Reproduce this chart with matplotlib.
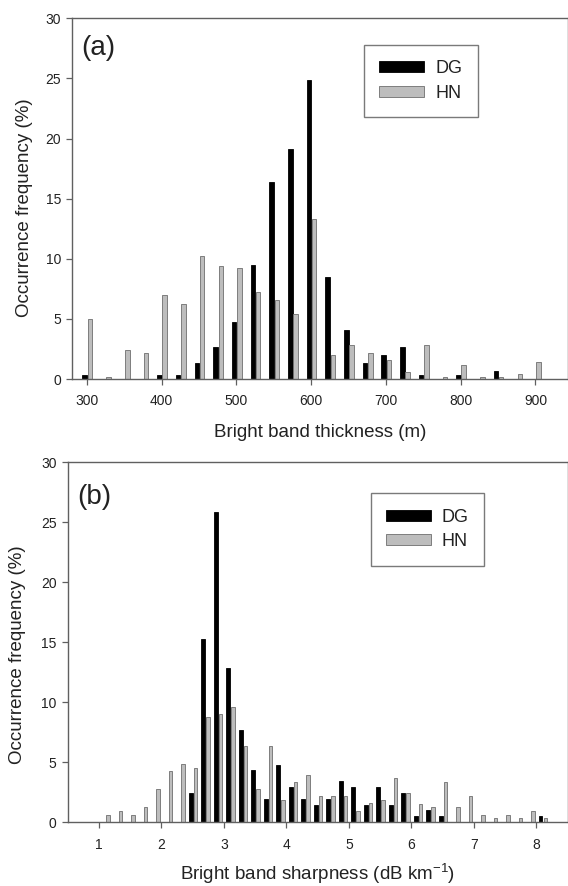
import matplotlib
matplotlib.use("Agg")
import matplotlib.pyplot as plt

plt.rcParams["font.family"] = ["Liberation Sans", "DejaVu Sans"]
plt.rcParams["mathtext.fontset"] = "custom"
plt.rcParams["mathtext.rm"] = "Liberation Sans"
plt.rcParams["mathtext.it"] = "Liberation Sans:italic"
plt.rcParams["mathtext.bf"] = "Liberation Sans:bold"

# (a) espesor de la banda brillante (m)
thick_bins = [300, 325, 350, 375, 400, 425, 450, 475, 500, 525, 550, 575, 600,
              625, 650, 675, 700, 725, 750, 775, 800, 825, 850, 875, 900]
thick_dg = [0.33, 0, 0, 0, 0.33, 0.33, 1.36, 2.7, 4.74, 9.5, 16.4, 19.1, 24.9,
            8.5, 4.07, 1.36, 2.0, 2.7, 0.33, 0, 0.33, 0, 0.7, 0, 0]
thick_hn = [4.96, 0.2, 2.4, 2.2, 7.0, 6.2, 10.2, 9.4, 9.2, 7.2, 6.6, 5.4, 13.3,
            2.0, 2.8, 2.2, 1.6, 0.6, 2.8, 0.2, 1.2, 0.2, 0.2, 0.4, 1.4]

# (b) nitidez de la banda brillante (dB km-1)
sharp_bins = [1.1, 1.3, 1.5, 1.7, 1.9, 2.1, 2.3, 2.5, 2.7, 2.9, 3.1, 3.3, 3.5,
              3.7, 3.9, 4.1, 4.3, 4.5, 4.7, 4.9, 5.1, 5.3, 5.5, 5.7, 5.9, 6.1,
              6.3, 6.5, 6.7, 6.9, 7.1, 7.3, 7.5, 7.7, 7.9, 8.1]
sharp_dg = [0, 0, 0, 0, 0, 0, 0, 2.41, 15.3, 25.9, 12.9, 7.68, 4.35,
            1.97, 4.8, 2.9, 1.97, 1.47, 1.94, 3.41, 2.91, 1.47, 2.91, 1.47, 2.44, 0.5,
            1.03, 0.5, 0, 0, 0, 0, 0, 0, 0, 0.5]
sharp_hn = [0.64, 0.97, 0.64, 1.25, 2.77, 4.24, 4.85, 4.55, 8.76, 9.04, 9.65, 6.35, 2.77,
            6.38, 1.86, 3.35, 3.96, 2.16, 2.16, 2.16, 0.97, 1.58, 1.89, 3.66, 2.44, 1.55,
            1.25, 3.35, 1.25, 2.16, 0.64, 0.33, 0.64, 0.33, 0.97, 0.33]

AXCOL = "#606060"
TXTCOL = "#222222"
HNCOL = "#bdbdbd"
HNEDGE = "#6e6e6e"


def panel(ax, bins, dg, hn, off_dg, off_hn, width, xlim, xticks, xlabel, tag,
          leg_anchor, ylab_x, ylab_y, xlab_y):
    ax.bar([b + off_dg for b in bins], dg, width=width, color="black",
           edgecolor="black", linewidth=0.6, label="DG")
    ax.bar([b + off_hn for b in bins], hn, width=width, color=HNCOL,
           edgecolor=HNEDGE, linewidth=0.6, label="HN")
    ax.set_xlim(*xlim)
    ax.set_ylim(0, 30)
    ax.set_xticks(xticks)
    ax.set_yticks([0, 5, 10, 15, 20, 25, 30])
    for s in ax.spines.values():
        s.set_color(AXCOL)
        s.set_linewidth(1.0)
    ax.tick_params(axis="both", direction="out", length=4, width=0.9,
                   color=AXCOL, labelcolor=TXTCOL, labelsize=10)
    ax.tick_params(axis="x", pad=7)
    ax.tick_params(axis="y", pad=4)
    ax.set_ylabel("Occurrence frequency (%)", fontsize=13.5, color=TXTCOL)
    ax.yaxis.set_label_coords(ylab_x, ylab_y)
    ax.set_xlabel(xlabel, fontsize=13.5, color=TXTCOL, va="center")
    ax.xaxis.set_label_coords(0.5, xlab_y)
    ax.text(0.019, tag[1], tag[0], transform=ax.transAxes, fontsize=20,
            color=TXTCOL, ha="left", va="center")
    leg = ax.legend(loc="upper left", bbox_to_anchor=leg_anchor, fontsize=13,
                    frameon=True, fancybox=False, framealpha=1,
                    edgecolor="#7a7a7a", handlelength=2.5, handleheight=0.55,
                    handletextpad=0.6, labelspacing=0.42, borderpad=0.85,
                    borderaxespad=0)
    leg.get_frame().set_linewidth(1.0)
    for t in leg.get_texts():
        t.set_color(TXTCOL)


fig = plt.figure(figsize=(5.68, 8.86), dpi=100)
ax1 = fig.add_axes([0.1268, 0.5722, 0.8725, 0.4071])
ax2 = fig.add_axes([0.1192, 0.0719, 0.8800, 0.4063])

panel(ax1, thick_bins, thick_dg, thick_hn, -3.0, 4.0, 6.0, (280, 943),
      [300, 400, 500, 600, 700, 800, 900], "Bright band thickness (m)",
      ("(a)", 0.917), (0.589, 0.927), -0.079, 0.475, -0.148)
panel(ax2, sharp_bins, sharp_dg, sharp_hn, -0.03, 0.045, 0.058, (0.5, 8.5),
      [1, 2, 3, 4, 5, 6, 7, 8], "Bright band sharpness (dB km$^{-1}$)",
      ("(b)", 0.904), (0.606, 0.914), -0.083, 0.465, -0.143)

fig.savefig("out.png", dpi=100)
